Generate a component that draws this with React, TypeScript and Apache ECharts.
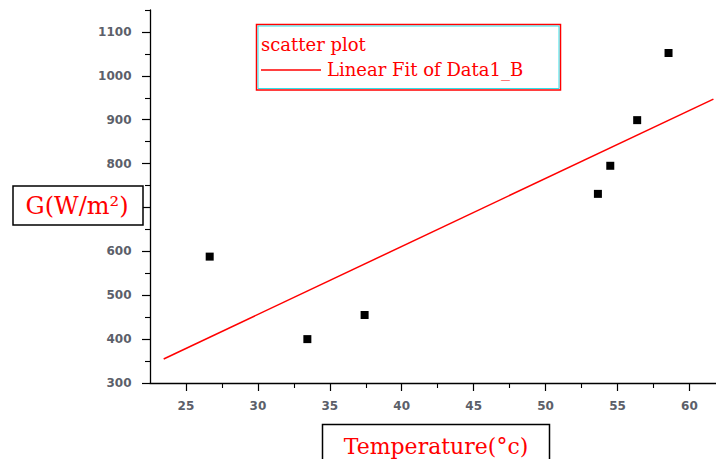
import React, { useEffect, useRef } from "react";
import * as echarts from "echarts";

// Scatter points (Temperature °C, G W/m²)
const tempValues = [26.65, 33.44, 37.42, 53.64, 54.5, 56.37, 58.55];
const gValues = [588, 400, 455, 731, 795, 899, 1052];

// Linear fit end points
const fitTemps = [23.45, 61.67];
const fitG = [354.7, 947];

// Axis ticks
const xMajorTicks = [25, 30, 35, 40, 45, 50, 55, 60];
const xMinorTicks = [27.5, 32.5, 37.5, 42.5, 47.5, 52.5, 57.5];
const yMajorTicks = [300, 400, 500, 600, 700, 800, 900, 1000, 1100];
const yMinorTicks = [350, 450, 550, 650, 750, 850, 950, 1050, 1150];
// 700 is hidden behind the axis-title box in the reference
const yTickLabels = [300, 400, 500, 600, 800, 900, 1000, 1100];

const RED = "#ff0000";
const LABEL_COLOR = "#5c5f6a";
const X_MIN = 22.5;
const X_MAX = 61.85;
const Y_MIN = 300;
const Y_MAX = 1150;

export default function App() {
  const ref = useRef<HTMLDivElement>(null);

  useEffect(() => {
    if (!ref.current) return;
    const chart = echarts.init(ref.current, null, { renderer: "svg" });

    const scatterData = tempValues.map((t, i) => [t, gValues[i]]);
    const fitData = fitTemps.map((t, i) => [t, fitG[i]]);

    const labelStyle = {
      fontSize: 12,
      fontWeight: "bold" as const,
      fontFamily: "DejaVu Sans",
      color: LABEL_COLOR,
      formatter: (v: number) => String(v),
    };

    chart.setOption({
      animation: false,
      backgroundColor: "#ffffff",
      grid: { left: 150, right: 0, top: 10, bottom: 76, containLabel: false },
      xAxis: [
        {
          type: "value",
          min: X_MIN,
          max: X_MAX,
          splitLine: { show: false },
          axisLine: { show: true, onZero: false, lineStyle: { color: "#000", width: 1.3 } },
          axisTick: {
            show: true,
            inside: false,
            length: 8,
            customValues: xMajorTicks,
            lineStyle: { color: "#000", width: 1.2 },
          },
          axisLabel: { ...labelStyle, margin: 17, customValues: xMajorTicks },
        },
        {
          type: "value",
          position: "bottom",
          min: X_MIN,
          max: X_MAX,
          splitLine: { show: false },
          axisLine: { show: false, onZero: false },
          axisTick: {
            show: true,
            inside: false,
            length: 5,
            customValues: xMinorTicks,
            lineStyle: { color: "#000", width: 1.1 },
          },
          axisLabel: { show: false },
        },
      ],
      yAxis: [
        {
          type: "value",
          min: Y_MIN,
          max: Y_MAX,
          splitLine: { show: false },
          axisLine: { show: true, onZero: false, lineStyle: { color: "#000", width: 1.3 } },
          axisTick: {
            show: true,
            inside: false,
            length: 8,
            customValues: yMajorTicks,
            lineStyle: { color: "#000", width: 1.2 },
          },
          axisLabel: { ...labelStyle, margin: 18.5, customValues: yTickLabels },
        },
        {
          type: "value",
          position: "left",
          min: Y_MIN,
          max: Y_MAX,
          splitLine: { show: false },
          axisLine: { show: false, onZero: false },
          axisTick: {
            show: true,
            inside: false,
            length: 5,
            customValues: yMinorTicks,
            lineStyle: { color: "#000", width: 1.1 },
          },
          axisLabel: { show: false },
        },
      ],
      series: [
        {
          name: "scatter plot",
          type: "scatter",
          data: scatterData,
          symbol: "rect",
          symbolSize: 8,
          itemStyle: { color: "#000", opacity: 1 },
        },
        {
          name: "Linear Fit of Data1_B",
          type: "line",
          data: fitData,
          showSymbol: false,
          symbol: "none",
          lineStyle: { color: RED, width: 1.5 },
        },
      ],
      graphic: [
        // Y axis title box
        {
          type: "rect",
          z: 100,
          shape: { x: 13, y: 186, width: 130, height: 39 },
          style: { fill: "#fff", stroke: "#000", lineWidth: 1.5 },
        },
        {
          type: "text",
          z: 101,
          x: 77,
          y: 206,
          style: {
            text: "G(W/m²)",
            fill: RED,
            font: "24px 'DejaVu Serif'",
            align: "center",
            verticalAlign: "middle",
          },
        },
        // X axis title box
        {
          type: "rect",
          z: 100,
          shape: { x: 322.5, y: 424.5, width: 227, height: 44 },
          style: { fill: "#fff", stroke: "#000", lineWidth: 1.5 },
        },
        {
          type: "text",
          z: 101,
          x: 436,
          y: 446,
          style: {
            text: "Temperature(°c)",
            fill: RED,
            font: "22px 'DejaVu Serif'",
            align: "center",
            verticalAlign: "middle",
          },
        },
        // Legend box
        {
          type: "rect",
          z: 100,
          shape: { x: 256.5, y: 24.5, width: 304, height: 65.5 },
          style: { fill: "#fff", stroke: RED, lineWidth: 1.5 },
        },
        {
          type: "rect",
          z: 100,
          shape: { x: 258, y: 26, width: 301, height: 62.5 },
          style: { fill: "none", stroke: "#33e0e8", lineWidth: 1 },
        },
        {
          type: "text",
          z: 101,
          x: 261,
          y: 44,
          style: {
            text: "scatter plot",
            fill: RED,
            font: "18px 'DejaVu Serif'",
            align: "left",
            verticalAlign: "middle",
          },
        },
        {
          type: "line",
          z: 101,
          shape: { x1: 261, y1: 70, x2: 321, y2: 70 },
          style: { stroke: RED, lineWidth: 1.5 },
        },
        {
          type: "text",
          z: 101,
          x: 327,
          y: 69,
          style: {
            text: "Linear Fit of Data1_B",
            fill: RED,
            font: "18px 'DejaVu Serif'",
            align: "left",
            verticalAlign: "middle",
          },
        },
      ],
    });

    return () => chart.dispose();
  }, []);

  return (
    <div
      ref={ref}
      style={{ position: "fixed", left: 0, top: 0, width: 716, height: 459, background: "#fff" }}
    />
  );
}
